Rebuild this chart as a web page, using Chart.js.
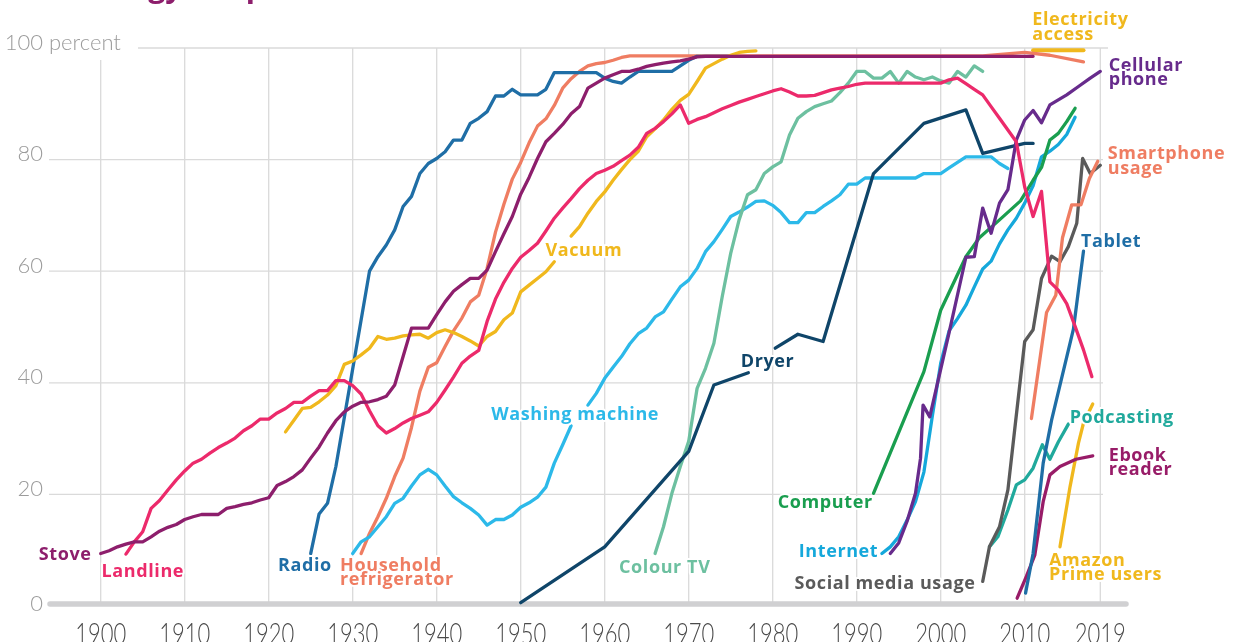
<!DOCTYPE html>
<html>
<head>
<meta charset="utf-8">
<script src="https://cdn.jsdelivr.net/npm/chart.js@4.4.0/dist/chart.umd.min.js"></script>
<style>
html,body{margin:0;padding:0;background:#fff;overflow:hidden}
#wrap{width:1233px;height:642px;position:relative}
</style>
</head>
<body>
<div id="wrap"><canvas id="c" width="1233" height="642"></canvas></div>
<script>
// ---------- tick labels ----------
const tickYears = [1900,1910,1920,1930,1940,1950,1960,1970,1980,1990,2000,2010,2019];
const yTicks = [0,20,40,60,80,100];

// ---------- series data (year, percent of US households) ----------
const stoveYears = [1900,1901,1902,1903,1904,1905,1906,1907,1908,1909,1910,1911,1912,1913,1914,1915,1916,1917,1918,1919,1920,1921,1922,1923,1924,1925,1926,1927,1928,1929,1930,1931,1932,1933,1934,1935,1936,1937,1938,1939,1940,1941,1942,1943,1944,1945,1946,1947,1948,1949,1950,1951,1952,1953,1954,1955,1956,1957,1958,1959,1960,1961,1962,1963,1964,1965,1966,1967,1968,1969,1970,1971,1972,2011];
const stoveValues = [9.4,9.9,10.6,11.1,11.5,11.5,12.4,13.4,14.1,14.6,15.5,16.0,16.4,16.4,16.4,17.5,17.8,18.2,18.5,19.0,19.4,21.6,22.3,23.2,24.4,26.5,28.5,31.0,33.2,34.8,35.8,36.5,36.6,37.0,37.6,39.6,44.7,49.8,49.8,49.8,52.2,54.5,56.4,57.6,58.7,58.7,60.2,63.5,66.7,69.8,73.8,76.8,80.2,83.2,84.7,86.3,88.2,89.5,92.8,93.7,94.6,95.2,95.8,95.8,96.2,96.7,97.0,97.3,97.5,97.7,98.0,98.4,98.5,98.5];

const landlineYears = [1903,1904,1905,1906,1907,1908,1909,1910,1911,1912,1913,1914,1915,1916,1917,1918,1919,1920,1921,1922,1923,1924,1925,1926,1927,1928,1929,1930,1931,1932,1933,1934,1935,1936,1937,1938,1939,1940,1941,1942,1943,1944,1945,1946,1947,1948,1949,1950,1951,1952,1953,1954,1955,1956,1957,1958,1959,1960,1961,1962,1963,1964,1965,1966,1967,1968,1969,1970,1971,1972,1973,1974,1975,1976,1977,1978,1979,1980,1981,1982,1983,1984,1985,1986,1987,1988,1989,1990,1991,1992,1993,1994,1995,1996,1997,1998,1999,2000,2001,2002,2003,2004,2005,2006,2007,2008,2009,2010,2011,2012,2013,2014,2015,2016,2017,2018];
const landlineValues = [9.3,11.5,13.3,17.5,18.9,20.8,22.6,24.2,25.6,26.3,27.4,28.4,29.2,30.1,31.4,32.3,33.5,33.5,34.6,35.4,36.5,36.5,37.6,38.6,38.6,40.4,40.4,39.5,38.0,35.0,32.3,31.0,31.8,32.8,33.6,34.2,34.8,36.5,38.7,41.0,43.5,44.8,45.8,51.0,55.0,58.0,60.5,62.5,63.7,65.0,67.2,69.5,71.3,73.0,74.8,76.3,77.5,78.1,78.8,79.8,80.8,82.2,84.7,85.6,86.8,88.2,89.8,86.5,87.2,87.7,88.4,89.1,89.7,90.3,90.8,91.3,91.8,92.3,92.7,92.1,91.4,91.4,91.5,92.0,92.5,92.8,93.1,93.5,93.7,93.7,93.7,93.7,93.7,93.7,93.7,93.7,93.7,93.7,94.3,94.6,93.6,92.6,91.6,89.5,87.4,85.3,83.2,75.1,69.8,74.3,58.1,56.6,54.2,50.1,45.9,41.1];

const radioYears = [1925,1926,1927,1928,1932,1933,1934,1935,1936,1937,1938,1939,1940,1941,1942,1943,1944,1945,1946,1947,1948,1949,1950,1951,1952,1953,1954,1955,1956,1957,1958,1959,1960,1961,1962,1963,1964,1965,1966,1967,1968,1969,1970,1971,1975];
const radioValues = [9.4,16.5,18.4,25.0,60.0,62.6,64.7,67.4,71.6,73.4,77.5,79.3,80.2,81.4,83.5,83.5,86.5,87.4,88.6,91.4,91.4,92.6,91.6,91.6,91.6,92.6,95.6,95.6,95.6,95.6,95.6,95.6,94.6,94.0,93.7,94.8,95.8,95.8,95.8,95.8,95.8,96.8,97.8,98.5,98.5];

const fridgeYears = [1931,1932,1933,1934,1935,1936,1937,1938,1939,1940,1941,1942,1943,1944,1945,1946,1947,1948,1949,1950,1951,1952,1953,1954,1955,1956,1957,1958,1959,1960,1961,1962,1963,2005,2010,2013,2017];
const fridgeValues = [9.4,13.0,16.0,19.3,23.2,26.5,32.0,38.5,42.8,43.6,46.5,49.3,51.6,54.5,55.7,60.5,67.0,72.0,76.5,79.5,83.0,86.0,87.3,89.7,92.8,94.5,95.8,96.8,97.2,97.4,97.8,98.3,98.6,98.6,99.2,98.7,97.5];

const vacuumYears = [1922,1923,1924,1925,1926,1927,1928,1929,1930,1931,1932,1933,1934,1935,1936,1937,1938,1939,1940,1941,1942,1943,1944,1945,1946,1947,1948,1949,1950,1951,1952,1953,1954,1955,1956,1957,1958,1959,1960,1961,1962,1963,1964,1965,1966,1967,1968,1969,1970,1971,1972,1973,1974,1975,1976,1977,1978];
const vacuumValues = [31.2,33.3,35.4,35.6,36.6,37.8,39.5,43.3,43.9,45.0,46.2,48.3,47.8,48.0,48.4,48.6,48.7,48.0,49.0,49.5,49.0,48.3,47.5,46.6,48.3,49.2,51.3,52.5,56.3,57.5,58.7,59.9,61.7,null,66.3,68.0,70.4,72.5,74.2,76.3,78.2,80.0,81.5,84.1,85.5,87.1,89.0,90.6,91.7,94.0,96.4,97.2,98.0,98.7,99.2,99.4,99.5];

const washerYears = [1930,1931,1932,1933,1934,1935,1936,1937,1938,1939,1940,1941,1942,1943,1944,1945,1946,1947,1948,1949,1950,1951,1952,1953,1954,1955,1956,1957,1958,1959,1960,1961,1962,1963,1964,1965,1966,1967,1968,1969,1970,1971,1972,1973,1974,1975,1976,1977,1978,1979,1980,1981,1982,1983,1984,1985,1986,1987,1988,1989,1990,1991,1992,1993,1994,1995,1996,1997,1998,1999,2000,2001,2002,2003,2004,2005,2006,2007,2008];
const washerValues = [9.4,11.5,12.4,14.2,16.0,18.4,19.3,21.5,23.5,24.5,23.5,21.5,19.6,18.5,17.5,16.3,14.5,15.5,15.5,16.3,17.7,18.5,19.5,21.3,25.6,28.9,32.3,null,36.0,38.1,40.8,42.8,44.7,47.0,48.8,49.8,51.8,52.7,55.0,57.2,58.4,60.5,63.5,65.3,67.5,69.8,70.6,71.5,72.5,72.6,71.8,70.5,68.7,68.7,70.5,70.5,71.6,72.6,73.7,75.6,75.6,76.7,76.7,76.7,76.7,76.7,76.7,76.7,77.5,77.5,77.5,78.5,79.5,80.5,80.5,80.5,80.5,79.3,78.4];

const dryerYears = [1950,1960,1970,1973,1977.1,1978.5,1980.3,1983,1986,1992,1998,2003,2005,2010,2011];
const dryerValues = [0.6,10.6,27.7,39.6,41.8,null,46.2,48.7,47.4,77.5,86.5,88.9,81.1,82.9,82.9];

const colourTvYears = [1966,1967,1968,1969,1970,1971,1972,1973,1974,1975,1976,1977,1978,1979,1980,1981,1982,1983,1984,1985,1986,1987,1988,1989,1990,1991,1992,1993,1994,1995,1996,1997,1998,1999,2000,2001,2002,2003,2004,2005];
const colourTvValues = [9.4,14.2,20.2,25.0,29.5,39.0,42.6,47.1,55.5,63.2,69.2,73.7,74.6,77.5,78.7,79.6,84.4,87.4,88.6,89.5,90.0,90.5,92.0,93.7,95.8,95.8,94.6,94.6,95.8,93.7,95.8,94.8,94.3,94.8,94.1,93.7,95.8,94.8,96.8,95.8];

const computerYears = [1992,1998,2000,2003,2004.6,2007,2009.5,2011,2012,2013,2014,2015,2016];
const computerValues = [20.2,42.0,53.0,62.6,66.0,69.2,72.6,76.3,78.6,83.5,84.7,86.8,89.2];

const internetYears = [1993,1994,1995,1996,1997,1998,1999,2000,2001,2002,2003,2004,2005,2006,2007,2008,2009,2010,2011,2012,2013,2014,2015,2016];
const internetValues = [9.4,10.6,12.4,15.4,18.7,24.0,34.0,43.5,49.3,51.5,53.9,57.2,60.4,61.8,64.9,67.4,69.5,72.2,75.3,80.5,81.5,82.7,84.5,87.6];

const cellYears = [1994,1995,1996,1997,1997.6,1997.9,1998.7,2001,2003,2004,2005,2006,2007,2008,2009,2010,2011,2012,2013,2015,2016.4,2017.8,2019];
const cellValues = [9.4,11.3,15.2,20.2,26.5,36.0,33.9,49.0,62.5,62.6,71.3,66.8,72.2,74.6,83.5,87.1,88.8,86.6,89.8,91.6,93.1,94.6,95.8];

const socialYears = [2005,2005.8,2007,2008,2008.8,2010,2011,2012,2013.2,2014.2,2015.2,2016.2,2016.9,2017.8,2019];
const socialValues = [4.4,10.6,14.2,20.8,31.5,47.4,49.5,58.7,62.7,61.7,64.4,68.6,80.2,77.5,79.0];

const smartphoneYears = [2010.8,2012.6,2013.7,2014.5,2015.6,2016.7,2017.7,2018.7];
const smartphoneValues = [33.6,52.6,55.7,66.0,71.9,71.9,76.6,79.7];

const tabletYears = [2010.1,2011,2012.2,2013.2,2015.8,2017];
const tabletValues = [2.3,9.4,25.6,33.3,49.6,63.6];

const podcastYears = [2005.8,2006.8,2008,2009,2010,2011,2012.1,2013,2014,2015.2];
const podcastValues = [10.6,12.4,17.2,21.7,22.6,24.7,28.9,26.3,29.4,32.6];

const ebookYears = [2009.1,2010.2,2011.2,2012.2,2013,2014.2,2016.1,2018.1];
const ebookValues = [1.4,5.3,9.1,18.7,23.5,25.0,26.3,26.9];

const amazonYears = [2014.2,2015.4,2016.4,2017,2018.1];
const amazonValues = [10.6,21.4,29.2,32.8,36.2];

const electricityYears = [2011,2017];
const electricityValues = [99.6,99.6];

// ---------- styling ----------
const C = {
  stove:'#8d1e6c', landline:'#ec2a6b', radio:'#1f6ea6', fridge:'#ef7d62', vacuum:'#f0b81d',
  washer:'#2cb9e9', dryer:'#0f4569', tv:'#6dc0a0', computer:'#1a9e4f', internet:'#15a8db',
  cell:'#672b8c', social:'#5a5a5a', tablet:'#1f6ea6', podcast:'#20a99c', ebook:'#981c68',
  amazon:'#f0b81d', electricity:'#f0b81d'
};

// drawn top-first (Chart.js draws dataset 0 last)
const seriesDefs = [
  ['Stove', stoveYears, stoveValues, C.stove, 3.3],
  ['Landline', landlineYears, landlineValues, C.landline, 3.3],
  ['Cellular phone', cellYears, cellValues, C.cell, 3.3],
  ['Smartphone usage', smartphoneYears, smartphoneValues, C.fridge, 3.3],
  ['Social media usage', socialYears, socialValues, C.social, 3.3],
  ['Tablet', tabletYears, tabletValues, C.tablet, 3.3],
  ['Podcasting', podcastYears, podcastValues, C.podcast, 3.3],
  ['Ebook reader', ebookYears, ebookValues, C.ebook, 3.3],
  ['Amazon Prime users', amazonYears, amazonValues, C.amazon, 3.3],
  ['Computer', computerYears, computerValues, C.computer, 3.3],
  ['Internet', internetYears, internetValues, C.internet, 3.3],
  ['Dryer', dryerYears, dryerValues, C.dryer, 3.3],
  ['Colour TV', colourTvYears, colourTvValues, C.tv, 3.3],
  ['Washing machine', washerYears, washerValues, C.washer, 3.3],
  ['Vacuum', vacuumYears, vacuumValues, C.vacuum, 3.3],
  ['Radio', radioYears, radioValues, C.radio, 3.3],
  ['Household refrigerator', fridgeYears, fridgeValues, C.fridge, 3.3],
  ['Electricity access', electricityYears, electricityValues, C.electricity, 4]
];

// direct labels: lines, colour, anchor year, anchor value (baseline of first line), alignment
const labelSpecs = [
  [['Stove'], C.stove, 1898.9, 8.3, 'right'],
  [['Landline'], C.landline, 1900.1, 5.2, 'left'],
  [['Radio'], C.radio, 1921.1, 6.2, 'left'],
  [['Household','refrigerator'], C.fridge, 1928.5, 6.3, 'left'],
  [['Vacuum'], C.vacuum, 1952.95, 62.7, 'left'],
  [['Washing machine'], C.washer, 1946.5, 33.3, 'left'],
  [['Dryer'], C.dryer, 1976.2, 42.9, 'left'],
  [['Colour TV'], C.tv, 1961.7, 6.0, 'left'],
  [['Computer'], C.computer, 1980.6, 17.6, 'left'],
  [['Internet'], C.internet, 1983.1, 8.8, 'left'],
  [['Social media usage'], C.social, 1982.6, 3.1, 'left'],
  [['Amazon','Prime users'], C.amazon, 2012.9, 7.2, 'left'],
  [['Ebook','reader'], C.ebook, 2020.0, 26.0, 'left'],
  [['Podcasting'], C.podcast, 2015.35, 32.8, 'left'],
  [['Tablet'], C.tablet, 2016.7, 64.4, 'left'],
  [['Smartphone','usage'], C.fridge, 2019.9, 80.1, 'left'],
  [['Cellular','phone'], C.cell, 2020.0, 95.9, 'left'],
  [['Electricity','access'], C.electricity, 2010.9, 104.1, 'left']
];

const titleText = 'Technology adoption';

const decor = {
  id: 'decor',
  beforeDatasetsDraw(chart) {
    const {ctx, scales: {x, y}} = chart;
    ctx.save();
    const top = y.getPixelForValue(100);
    const zero = y.getPixelForValue(0);
    // horizontal grid
    ctx.strokeStyle = '#dadada';
    ctx.lineWidth = 1.3;
    yTicks.forEach(v => {
      if (v === 0) return;
      const py = y.getPixelForValue(v);
      ctx.beginPath();
      ctx.moveTo(v === 100 ? 138 : 49, py);
      ctx.lineTo(v === 100 ? 1108 : 1103, py);
      ctx.stroke();
    });
    // vertical grid
    tickYears.forEach(yr => {
      const px = x.getPixelForValue(yr);
      ctx.beginPath();
      ctx.moveTo(px, yr === tickYears[0] ? top + 12 : top);
      ctx.lineTo(px, zero - 2);
      ctx.stroke();
    });
    // baseline
    ctx.strokeStyle = '#d0d0d2';
    ctx.lineWidth = 5.5;
    ctx.lineCap = 'round';
    ctx.beginPath();
    ctx.moveTo(50, zero - 2);
    ctx.lineTo(1126, zero - 2);
    ctx.stroke();

    // y tick labels
    ctx.font = '300 22px Lato';
    ctx.fillStyle = '#9b9b9b';
    ctx.textBaseline = 'alphabetic';
    yTicks.forEach(v => {
      const py = y.getPixelForValue(v) + 1.5 + (v === 0 ? 3 : 0);
      if (v === 100) {
        const w = ctx.measureText('100').width;
        ctx.textAlign = 'left';
        ctx.fillText('100 percent', 43 - w, py);
      } else {
        ctx.textAlign = 'right';
        ctx.fillText(String(v), 43, py);
      }
    });
    // x tick labels (tall, cropped by the bottom edge like the original)
    ctx.font = '300 22px Lato';
    ctx.fillStyle = '#4a4a4a';
    ctx.textAlign = 'center';
    tickYears.forEach(yr => {
      ctx.save();
      ctx.translate(x.getPixelForValue(yr), 644);
      ctx.scale(1, 1.32);
      ctx.fillText(String(yr), 0, 0);
      ctx.restore();
    });

    // title (cropped at top of picture)
    ctx.font = 'bold 30px "Open Sans"';
    ctx.fillStyle = C.stove;
    ctx.textAlign = 'left';
    ctx.fillText(titleText, 12, -3);
    ctx.restore();
  },
  afterDatasetsDraw(chart) {
    const {ctx, scales: {x, y}} = chart;
    ctx.save();
    ctx.font = 'bold 18px "Open Sans"';
    try { ctx.letterSpacing = '0.6px'; } catch (e) {}
    ctx.textBaseline = 'alphabetic';
    ctx.lineJoin = 'round';
    labelSpecs.forEach(([lines, color, yr, val, align]) => {
      const px = x.getPixelForValue(yr);
      const py = y.getPixelForValue(val);
      ctx.textAlign = align;
      lines.forEach((t, i) => {
        ctx.strokeStyle = '#ffffff';
        ctx.lineWidth = 4;
        ctx.strokeText(t, px, py + i * 14.5);
        ctx.fillStyle = color;
        ctx.fillText(t, px, py + i * 14.5);
      });
    });
    ctx.restore();
  }
};

new Chart(document.getElementById('c'), {
  type: 'line',
  data: {
    datasets: seriesDefs.map(([name, yrs, vals, color, w]) => ({
      label: name,
      data: yrs.map((yr, i) => ({x: yr, y: vals[i]})),
      borderColor: color,
      backgroundColor: color,
      borderWidth: w,
      pointRadius: 0,
      pointHoverRadius: 0,
      tension: 0,
      fill: false,
      spanGaps: false,
      borderCapStyle: 'round',
      borderJoinStyle: 'round',
      clip: false
    }))
  },
  options: {
    responsive: false,
    devicePixelRatio: 1,
    animation: false,
    events: [],
    layout: {padding: {left: 100.7, right: 1233 - 1100.3, top: 48, bottom: 642 - 606}},
    scales: {
      x: {type: 'linear', min: 1900, max: 2019, display: false},
      y: {type: 'linear', min: 0, max: 100, display: false}
    },
    plugins: {legend: {display: false}, tooltip: {enabled: false}, title: {display: false}}
  },
  plugins: [decor]
});
</script>
</body>
</html>
